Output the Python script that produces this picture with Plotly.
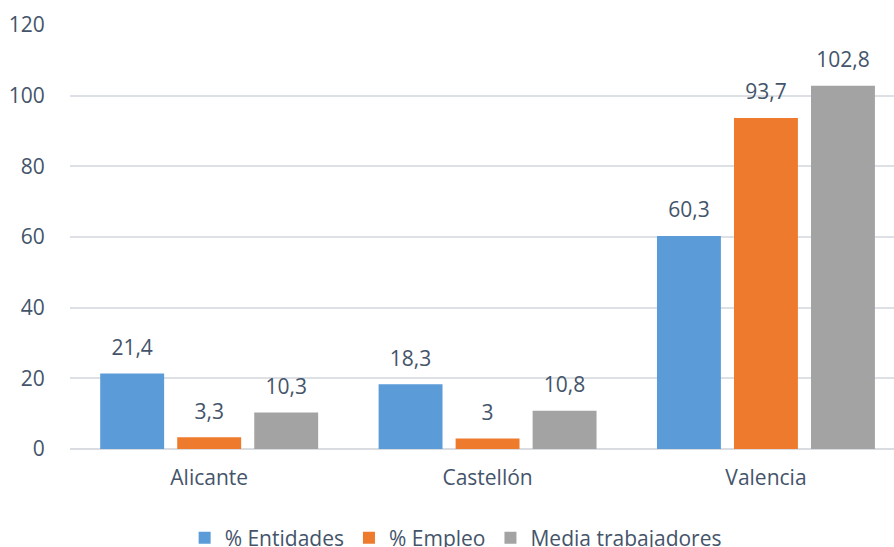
import plotly.graph_objects as go

categories = ["Alicante", "Castellón", "Valencia"]
series_names = ["% Entidades", "% Empleo", "Media trabajadores"]
entidades = [21.4, 18.3, 60.3]
empleo = [3.3, 3.0, 93.7]
media = [10.3, 10.8, 102.8]
y_ticks = [0, 20, 40, 60, 80, 100, 120]

values = [entidades, empleo, media]
colors = ["#5A9BD8", "#EE7A2E", "#A3A3A3"]
text_color = "#44546A"
font_family = "Open Sans"

def fmt(v):
    return f"{v:g}".replace(".", ",")

fig = go.Figure()
for i, (name, vals, col) in enumerate(zip(series_names, values, colors)):
    fig.add_trace(go.Bar(
        x=categories, y=vals, name=name, marker_color=col,
        offsetgroup=str(i), marker_line_width=0,
    ))
for i, (name, vals) in enumerate(zip(series_names, values)):
    fig.add_trace(go.Scatter(
        x=categories, y=vals, mode="markers+text",
        text=[fmt(v) for v in vals], textposition="top center",
        marker=dict(size=20, opacity=0), offsetgroup=str(i),
        textfont=dict(size=21, color=text_color, family=font_family),
        showlegend=False, hoverinfo="skip", cliponaxis=False,
    ))

fig.update_layout(
    width=894, height=547,
    margin=dict(l=70, r=0, t=25, b=98, autoexpand=False),
    paper_bgcolor="white", plot_bgcolor="white",
    barmode="group", bargap=0.17, bargroupgap=0.17,
    scattermode="group", scattergap=0.17,
    font=dict(family=font_family, color=text_color, size=21),
    showlegend=True,
    legend=dict(orientation="h", x=0.468, xanchor="center", y=-0.21, yanchor="middle",
                font=dict(size=21, color=text_color), traceorder="normal"),
)
fig.update_xaxes(
    range=[-0.5, 2.46], showgrid=False, showline=False, automargin=False,
    ticks="outside", ticklen=10, tickcolor="rgba(0,0,0,0)",
    tickfont=dict(size=21, color=text_color),
)
fig.update_yaxes(
    range=[0, 120], tickvals=y_ticks, showgrid=True, gridcolor="#DDE1E6", gridwidth=1.5,
    zeroline=True, zerolinecolor="#D9DDE2", zerolinewidth=1.5, showline=False, automargin=False,
    ticks="outside", ticklen=20, tickcolor="rgba(0,0,0,0)",
    tickfont=dict(size=21, color=text_color),
)
fig.write_html("out.html", config={"displayModeBar": False},
               post_script="document.body.style.margin='0';document.body.style.overflow='hidden';")
